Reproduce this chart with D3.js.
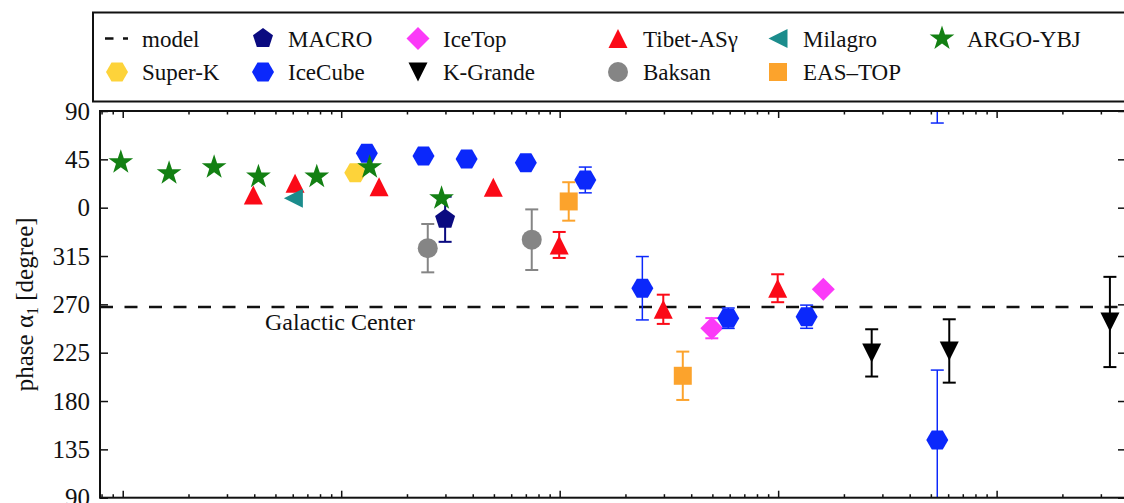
<!DOCTYPE html>
<html>
<head>
<meta charset="utf-8">
<script src="https://cdn.jsdelivr.net/npm/d3@7"></script>
<style>
  body { margin: 0; background: #fff; }
  svg text { font-family: "Liberation Serif", "Times New Roman", "DejaVu Serif", serif; }
</style>
</head>
<body>
<svg id="chart" width="1124" height="503"></svg>
<script>
// Dipole phase vs energy; energies in eV, phases in degrees (0-360)
// each point: [energy, phase, error]
const superK = [[1.16e13, 32.6, 0]];
const macro = [[2.99e13, 349.2, 21]];
const iceCube = [
  [1.31e13, 50.6, 0], [2.38e13, 48.1, 0], [3.75e13, 45.3, 0], [7.0e13, 41.9, 0],
  [1.31e14, 25.8, 12], [2.39e14, 285.0, 29.5], [5.91e14, 257.1, 9.5],
  [1.35e15, 258.5, 10.8], [5.35e15, 143.8, 65]
];
const iceTop = [[4.97e14, 247.8, 9.4], [1.61e15, 284.0, 0]];
const kGrande = [[2.68e15, 224.8, 22], [6.07e15, 226.6, 29.5], [3.30e16, 253.6, 42]];
const tibet = [
  [3.96e12, 11.8, 0], [6.15e12, 22.7, 0], [1.49e13, 19.5, 0], [4.97e13, 19.0, 0],
  [9.95e13, 325.3, 12.1], [2.98e14, 265.4, 13.6], [9.95e14, 285.0, 13]
];
const baksan = [[2.49e13, 322.3, 22.5], [7.45e13, 330.2, 28.2]];
const milagro = [[6.04e12, 8.7, 0]];
const easTop = [[1.10e14, 5.8, 17.9], [3.66e14, 203.5, 22.5]];
const argo = [
  [0.98e12, 42.3, 0], [1.63e12, 32.0, 0], [2.62e12, 37.6, 0], [4.18e12, 28.9, 0],
  [7.73e12, 28.9, 0], [1.35e13, 37.6, 0], [2.88e13, 8.7, 0]
];
const galacticCenter = 267.5;

const yTicks = [90, 45, 0, -45, -90, -135, -180, -225, -270];

// series in drawing order
const series = [
  { name: 'Super-K', data: superK, shape: 'hexagon', color: '#fdd33a' },
  { name: 'IceTop', data: iceTop, shape: 'diamond', color: '#fb3af8' },
  { name: 'IceCube', data: iceCube, shape: 'hexagon', color: '#0b28fb', thin: true },
  { name: 'Tibet-ASγ', data: tibet, shape: 'triUp', color: '#fb0a17' },
  { name: 'Milagro', data: milagro, shape: 'triLeft', color: '#1b8c8c' },
  { name: 'MACRO', data: macro, shape: 'pentagon', color: '#0a0a80' },
  { name: 'Baksan', data: baksan, shape: 'circle', color: '#858585' },
  { name: 'EAS–TOP', data: easTop, shape: 'square', color: '#fca32c' },
  { name: 'K-Grande', data: kGrande, shape: 'triDown', color: '#000000' },
  { name: 'ARGO-YBJ', data: argo, shape: 'star', color: '#138013' }
];

// legend columns (matplotlib column-major order)
const legendOrder = [
  ['model', 'Super-K'], ['MACRO', 'IceCube'], ['IceTop', 'K-Grande'],
  ['Tibet-ASγ', 'Baksan'], ['Milagro', 'EAS–TOP'], ['ARGO-YBJ']
];

const serif = '"Liberation Serif", "Times New Roman", serif';
const svg = d3.select('#chart').attr('font-family', serif);
const plotL = 100, plotR = 1126, plotT = 111, plotB = 497.7;

const x = d3.scaleLog().domain([7.87e11, 3.91e16]).range([plotL, plotR]);
const y = d3.scaleLinear().domain([90, -270]).range([plotT, plotB]);
const wrap = p => p > 90 ? p - 360 : p;

function poly(n, r, rot) {
  const pts = d3.range(n).map(i => {
    const a = rot + i * 2 * Math.PI / n;
    return [r * Math.sin(a), -r * Math.cos(a)];
  });
  return 'M' + pts.join('L') + 'Z';
}
function star(R, ratio) {
  const pts = d3.range(10).map(i => {
    const a = i * Math.PI / 5;
    const r = i % 2 ? R * ratio : R;
    return [r * Math.sin(a), -r * Math.cos(a)];
  });
  return 'M' + pts.join('L') + 'Z';
}
const shapes = {
  hexagon: poly(6, 11, Math.PI / 2),
  pentagon: poly(5, 10.5, 0),
  star: star(13, 0.39),
  diamond: 'M0,-11.5L11.5,0L0,11.5L-11.5,0Z',
  square: 'M-9,-9H9V9H-9Z',
  circle: d3.symbol(d3.symbolCircle, Math.PI * 100)(),
  triUp: 'M0,-9.5L-9.5,9.5L9.5,9.5Z',
  triDown: 'M0,9.5L-9.5,-9.5L9.5,-9.5Z',
  triLeft: 'M-9.5,0L9.5,-9.5L9.5,9.5Z'
};

// axes: inward ticks on all four sides
const majors = [1e12, 1e13, 1e14, 1e15, 1e16];
const minors = [];
for (let e = 11; e <= 16; e++) {
  for (let k = 2; k <= 9; k++) {
    const v = k * Math.pow(10, e);
    if (v > x.domain()[0] && v < x.domain()[1]) minors.push(v);
  }
}
const axes = svg.append('g');
axes.append('g').attr('transform', `translate(0,${plotT})`)
  .call(d3.axisTop(x).tickValues(majors).tickSize(-7).tickFormat(''));
axes.append('g').attr('transform', `translate(0,${plotT})`)
  .call(d3.axisTop(x).tickValues(minors).tickSize(-3.5).tickFormat(''));
axes.append('g').attr('transform', `translate(0,${plotB})`)
  .call(d3.axisBottom(x).tickValues(majors).tickSize(-7).tickFormat(''));
axes.append('g').attr('transform', `translate(0,${plotB})`)
  .call(d3.axisBottom(x).tickValues(minors).tickSize(-3.5).tickFormat(''));
axes.append('g').attr('transform', `translate(${plotR},0)`)
  .call(d3.axisRight(y).tickValues(yTicks).tickSize(-8).tickFormat(''));
const yAxis = axes.append('g').attr('transform', `translate(${plotL},0)`)
  .call(d3.axisLeft(y).tickValues(yTicks).tickSize(-8).tickPadding(10)
    .tickFormat(d => (d + 360) % 360));
axes.selectAll('.domain').remove();
axes.selectAll('g').attr('font-family', serif);
axes.selectAll('line').attr('stroke-width', 1.5).attr('stroke', '#111');
yAxis.selectAll('text')
  .attr('font-size', 25)
  .attr('fill', '#111');

svg.append('text')
  .attr('transform', `translate(33,${(plotT + plotB) / 2}) rotate(-90)`)
  .attr('text-anchor', 'middle')
  .attr('font-size', 25)
  .attr('fill', '#111')
  .call(t => {
    t.append('tspan').text('phase α');
    t.append('tspan').attr('font-size', 16).attr('dy', 5).text('1');
    t.append('tspan').attr('dy', -5).text(' [degree]');
  });

// model line (galactic center direction)
svg.append('line')
  .attr('x1', plotL).attr('x2', plotR)
  .attr('y1', y(wrap(galacticCenter))).attr('y2', y(wrap(galacticCenter)))
  .attr('stroke', '#111').attr('stroke-width', 2.5)
  .attr('stroke-dasharray', '13,11.5');
svg.append('text')
  .attr('x', 265).attr('y', y(wrap(galacticCenter)) + 23)
  .attr('font-size', 24).attr('fill', '#111')
  .text('Galactic Center');

// data
const plot = svg.append('g');
series.forEach(s => {
  const g = plot.append('g');
  const sw = s.thin ? 1.5 : 2;
  s.data.filter(d => d[2] > 0).forEach(d => {
    const cx = x(d[0]);
    const p = wrap(d[1]);
    const hi = p + d[2];
    let lo = p - d[2];
    const eb = g.append('g').attr('stroke', s.color).attr('stroke-width', sw);
    const cap = yy => eb.append('line').attr('x1', cx - 6.5).attr('x2', cx + 6.5)
      .attr('y1', yy).attr('y2', yy);
    eb.append('line').attr('x1', cx).attr('x2', cx)
      .attr('y1', y(hi)).attr('y2', y(Math.max(lo, -270)));
    cap(y(hi));
    if (lo < -270) {
      // error wraps round the phase axis
      lo += 360;
      eb.append('line').attr('x1', cx).attr('x2', cx).attr('y1', y(90)).attr('y2', y(lo));
    }
    cap(y(lo));
  });
  g.selectAll('path.mark').data(s.data).join('path')
    .attr('class', 'mark')
    .attr('d', shapes[s.shape])
    .attr('transform', d => `translate(${x(d[0])},${y(wrap(d[1]))})`)
    .attr('fill', s.color);
});

// frame
svg.append('rect')
  .attr('x', plotL).attr('y', plotT)
  .attr('width', plotR - plotL).attr('height', plotB - plotT)
  .attr('fill', 'none').attr('stroke', '#111').attr('stroke-width', 2);

// legend
const legend = svg.append('g');
legend.append('rect')
  .attr('x', 93).attr('y', 12.5).attr('width', 1040).attr('height', 89)
  .attr('fill', '#fff').attr('stroke', '#111').attr('stroke-width', 2);
const colX = [117, 263, 418, 618, 778, 942];
const rowY = [38.5, 72];
legendOrder.forEach((col, ci) => {
  col.forEach((name, ri) => {
    const cx = colX[ci], cy = rowY[ri];
    if (name === 'model') {
      legend.append('line')
        .attr('x1', 105).attr('x2', 128).attr('y1', cy).attr('y2', cy)
        .attr('stroke', '#111').attr('stroke-width', 2.5)
        .attr('stroke-dasharray', '8.5,9.5');
    } else {
      const s = series.find(d => d.name === name);
      legend.append('path')
        .attr('d', shapes[s.shape])
        .attr('transform', `translate(${cx},${cy})`)
        .attr('fill', s.color);
    }
    legend.append('text')
      .attr('x', cx + 25).attr('y', cy + 8)
      .attr('font-size', 23).attr('fill', '#111')
      .text(name);
  });
});
</script>
</body>
</html>
